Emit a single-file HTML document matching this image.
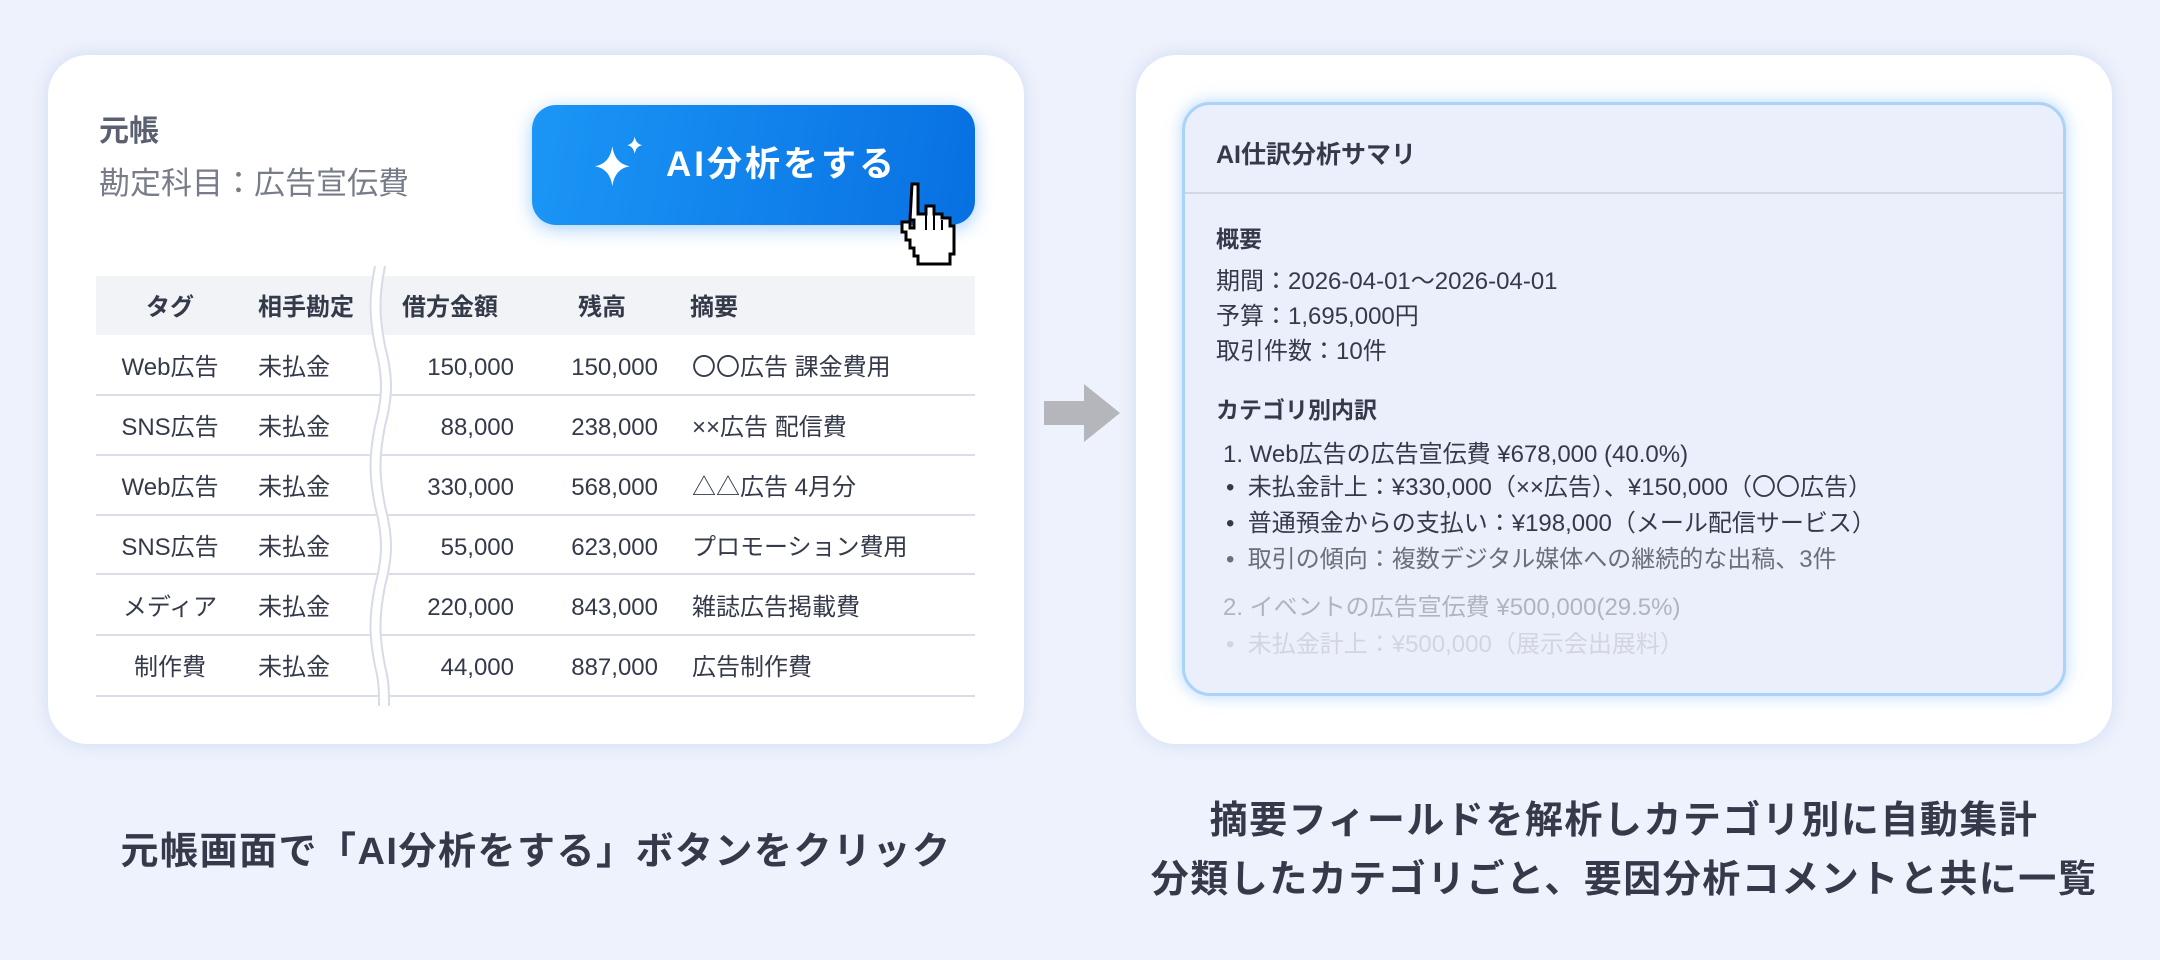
<!DOCTYPE html>
<html><head><meta charset="utf-8"><style>
*{margin:0;padding:0;box-sizing:border-box}
body{width:2160px;height:960px;background:#eef2fc;font-family:"Liberation Sans","Noto Sans CJK JP",sans-serif;color:#343a4a;position:relative;overflow:hidden}
.card{position:absolute;background:#fff;border-radius:40px;box-shadow:0 0 18px rgba(170,190,230,.45)}
.a{position:absolute;white-space:nowrap}
.t{font-size:24px;color:#343a4a;line-height:36px}
.b{font-weight:bold}
.row{position:absolute;left:96px;width:879px;height:2px;background:#dcdde6}
.n1{left:384px;width:130px;text-align:right}
.n2{left:528px;width:130px;text-align:right}
</style></head><body>
<div class="card" style="left:48px;top:55px;width:976px;height:689px"></div>
<div class="a b" style="left:99px;top:106px;font-size:30px;color:#5a6070">元帳</div>
<div class="a" style="left:99px;top:158px;font-size:31px;color:#777c88">勘定科目：広告宣伝費</div>
<div class="a" style="left:532px;top:105px;width:443px;height:120px;border-radius:24px;background:linear-gradient(100deg,#1b96f6,#0870e2);box-shadow:0 4px 18px rgba(60,150,245,.45)"></div>
<svg class="a" style="left:590px;top:134px" width="62" height="62" viewBox="0 0 50 50"><path d="M18 10 Q20 24 32 26 Q20 28 18 42 Q16 28 4 26 Q16 24 18 10Z" fill="#fff"/><path d="M36 2 Q37 8 42 9 Q37 10 36 16 Q35 10 30 9 Q35 8 36 2Z" fill="#fff"/></svg>
<div class="a b" style="left:666px;top:136px;font-size:35px;color:#fff;letter-spacing:3px">AI分析をする</div>
<svg class="a" style="left:898px;top:182px" width="70" height="84" viewBox="0 0 70 84"><path d="M14 2 h6 v30 h8 v-8 h8 v8 h8 v4 h8 v8 h4 v28 h-4 v10 h-32 v-8 h-4 v-8 h-4 v-8 h-4 v-8 h-4 v-10 h8 v6 h4 v-8 h-4 Z" fill="#fff" stroke="#000" stroke-width="3" stroke-linejoin="miter"/><path d="M28 26 v22 M36 32 v16 M44 38 v10" stroke="#000" stroke-width="2"/></svg>
<div class="a" style="left:96px;top:276px;width:879px;height:59px;background:#f2f3f6"></div>
<div class="row" style="top:394px"></div><div class="row" style="top:454px"></div><div class="row" style="top:514px"></div><div class="row" style="top:573px"></div><div class="row" style="top:634px"></div><div class="row" style="top:695px"></div>
<div class="a t b" style="left:96px;width:148px;text-align:center;top:290px">タグ</div>
<div class="a t b" style="left:258px;top:290px">相手勘定</div>
<div class="a t b" style="left:402px;top:290px">借方金額</div>
<div class="a t b" style="left:560px;width:84px;text-align:center;top:290px">残高</div>
<div class="a t b" style="left:690px;top:290px">摘要</div>
<div class="a t" style="left:96px;width:148px;text-align:center;top:350px">Web広告</div><div class="a t" style="left:258px;top:350px">未払金</div><div class="a t n1" style="top:350px">150,000</div><div class="a t n2" style="top:350px">150,000</div><div class="a t" style="left:692px;top:350px">〇〇広告 課金費用</div>
<div class="a t" style="left:96px;width:148px;text-align:center;top:410px">SNS広告</div><div class="a t" style="left:258px;top:410px">未払金</div><div class="a t n1" style="top:410px">88,000</div><div class="a t n2" style="top:410px">238,000</div><div class="a t" style="left:692px;top:410px">××広告 配信費</div>
<div class="a t" style="left:96px;width:148px;text-align:center;top:470px">Web広告</div><div class="a t" style="left:258px;top:470px">未払金</div><div class="a t n1" style="top:470px">330,000</div><div class="a t n2" style="top:470px">568,000</div><div class="a t" style="left:692px;top:470px">△△広告 4月分</div>
<div class="a t" style="left:96px;width:148px;text-align:center;top:530px">SNS広告</div><div class="a t" style="left:258px;top:530px">未払金</div><div class="a t n1" style="top:530px">55,000</div><div class="a t n2" style="top:530px">623,000</div><div class="a t" style="left:692px;top:530px">プロモーション費用</div>
<div class="a t" style="left:96px;width:148px;text-align:center;top:590px">メディア</div><div class="a t" style="left:258px;top:590px">未払金</div><div class="a t n1" style="top:590px">220,000</div><div class="a t n2" style="top:590px">843,000</div><div class="a t" style="left:692px;top:590px">雑誌広告掲載費</div>
<div class="a t" style="left:96px;width:148px;text-align:center;top:650px">制作費</div><div class="a t" style="left:258px;top:650px">未払金</div><div class="a t n1" style="top:650px">44,000</div><div class="a t n2" style="top:650px">887,000</div><div class="a t" style="left:692px;top:650px">広告制作費</div>
<svg class="a" style="left:366px;top:266px" width="40" height="440" viewBox="0 0 40 440"><path d="M14 0 C8 30 8 50 14 80 C22 110 22 130 14 160 C8 190 8 210 14 240 C22 270 22 290 14 320 C8 350 8 370 14 400 C18 415 18 425 18 440" fill="none" stroke="#fff" stroke-width="12"/><path d="M9 0 C3 30 3 50 9 80 C17 110 17 130 9 160 C3 190 3 210 9 240 C17 270 17 290 9 320 C3 350 3 370 9 400 C13 415 13 425 13 440" fill="none" stroke="#d6dbe8" stroke-width="2"/><path d="M19 0 C13 30 13 50 19 80 C27 110 27 130 19 160 C13 190 13 210 19 240 C27 270 27 290 19 320 C13 350 13 370 19 400 C23 415 23 425 23 440" fill="none" stroke="#d6dbe8" stroke-width="2"/></svg>
<svg class="a" style="left:1044px;top:384px" width="76" height="58" viewBox="0 0 76 58"><path d="M0 17 H40 V0 L76 29 L40 58 V41 H0Z" fill="#b4b6bc"/></svg>
<div class="card" style="left:1136px;top:55px;width:976px;height:689px"></div>
<div class="a" style="left:1182px;top:102px;width:884px;height:594px;border-radius:28px;background:#ebeffc;border:3px solid #a9d3f8;box-shadow:0 0 16px rgba(120,180,245,.55)"></div>
<div class="a" style="left:1185px;top:192px;width:878px;height:2px;background:#d4d7e0"></div>
<div class="a b" style="left:1216px;top:135px;font-size:25px">AI仕訳分析サマリ</div>
<div class="a b" style="left:1216px;top:220px;font-size:23px">概要</div>
<div class="a" style="left:1216px;top:264px;font-size:24px;line-height:35px">期間：2026-04-01～2026-04-01<br>予算：1,695,000円<br>取引件数：10件</div>
<div class="a b" style="left:1216px;top:391px;font-size:23px">カテゴリ別内訳</div>
<div class="a" style="left:1223px;top:434px;font-size:24px">1. Web広告の広告宣伝費 ¥678,000 (40.0%)</div>
<div class="a" style="left:1226px;top:470px;font-size:24px;line-height:36px">•&nbsp; 未払金計上：¥330,000（××広告）、¥150,000（〇〇広告）<br>•&nbsp; 普通預金からの支払い：¥198,000（メール配信サービス）<br><span style="color:#6a6f7c">•&nbsp; 取引の傾向：複数デジタル媒体への継続的な出稿、3件</span></div>
<div class="a" style="left:1223px;top:587px;font-size:24px;color:#b0b4be">2. イベントの広告宣伝費 ¥500,000(29.5%)</div>
<div class="a" style="left:1226px;top:624px;font-size:24px;color:#d2d5de">•&nbsp; 未払金計上：¥500,000（展示会出展料）</div>
<div class="a b" style="left:0;width:1072px;text-align:center;top:820px;font-size:38px;color:#343a4a;letter-spacing:1.5px">元帳画面で「AI分析をする」ボタンをクリック</div>
<div class="a b" style="left:1136px;width:976px;text-align:center;top:792px;font-size:38px;line-height:59px;color:#343a4a;letter-spacing:1.5px">摘要フィールドを解析しカテゴリ別に自動集計<br>分類したカテゴリごと、要因分析コメントと共に一覧</div>
</body></html>
